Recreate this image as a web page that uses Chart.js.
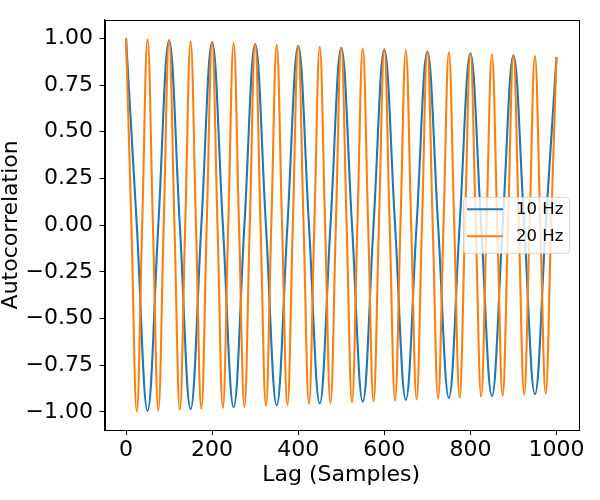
<!DOCTYPE html>
<html>
<head>
<meta charset="utf-8">
<script src="https://cdn.jsdelivr.net/npm/chart.js@4/dist/chart.umd.min.js"></script>
<style>
  html, body { margin: 0; padding: 0; background: #fff; }
  #wrap { width: 600px; height: 500px; }
</style>
</head>
<body>
<div id="wrap"><canvas id="acfChart" width="600" height="500"></canvas></div>
<script>
// Data (peaks, troughs and zero crossings)
const tenHzLag = [0, 25, 50, 75, 100, 125, 150, 175, 200, 225, 250, 275, 300, 325, 350, 375, 400, 425, 450, 475,
  500, 525, 550, 575, 600, 625, 650, 675, 700, 725, 750, 775, 800, 825, 850, 875, 900, 925, 950, 975, 1000];
const tenHzAcf = [1.000, 0, -0.995, 0, 0.990, 0, -0.985, 0, 0.980, 0, -0.975, 0, 0.970, 0, -0.965, 0, 0.960, 0, -0.955, 0,
  0.950, 0, -0.945, 0, 0.940, 0, -0.935, 0, 0.930, 0, -0.925, 0, 0.920, 0, -0.915, 0, 0.910, 0, -0.905, 0, 0.900];

const twentyHzLag = [0, 12.5, 25, 37.5, 50, 62.5, 75, 87.5, 100, 112.5, 125, 137.5, 150, 162.5, 175, 187.5,
  200, 212.5, 225, 237.5, 250, 262.5, 275, 287.5, 300, 312.5, 325, 337.5, 350, 362.5, 375, 387.5,
  400, 412.5, 425, 437.5, 450, 462.5, 475, 487.5, 500, 512.5, 525, 537.5, 550, 562.5, 575, 587.5,
  600, 612.5, 625, 637.5, 650, 662.5, 675, 687.5, 700, 712.5, 725, 737.5, 750, 762.5, 775, 787.5,
  800, 812.5, 825, 837.5, 850, 862.5, 875, 887.5, 900, 912.5, 925, 937.5, 950, 962.5, 975, 987.5, 1000];
const twentyHzAcf = [1.000, 0, -0.998, 0, 0.995, 0, -0.993, 0, 0.990, 0, -0.988, 0, 0.985, 0, -0.983, 0,
  0.980, 0, -0.978, 0, 0.975, 0, -0.973, 0, 0.970, 0, -0.968, 0, 0.965, 0, -0.963, 0,
  0.960, 0, -0.958, 0, 0.955, 0, -0.953, 0, 0.950, 0, -0.948, 0, 0.945, 0, -0.943, 0,
  0.940, 0, -0.938, 0, 0.935, 0, -0.933, 0, 0.930, 0, -0.928, 0, 0.925, 0, -0.923, 0,
  0.920, 0, -0.918, 0, 0.915, 0, -0.913, 0, 0.910, 0, -0.908, 0, 0.905, 0, -0.903, 0, 0.900];

const xTicks = [0, 200, 400, 600, 800, 1000];
const yTicks = [-1.00, -0.75, -0.50, -0.25, 0.00, 0.25, 0.50, 0.75, 1.00];
const seriesNames = ['10 Hz', '20 Hz'];
const seriesColors = ['#1f77b4', '#ff7f0e'];

const FONT = "'DejaVu Sans', sans-serif";

function toPoints(xs, ys) {
    return xs.map((x, i) => ({ x: x, y: ys[i] }));
}

// Box around the plot plus the matplotlib-style legend
const framePlugin = {
    id: 'frame',
    afterDraw(chart) {
        const { ctx, chartArea: a } = chart;
        ctx.save();
        ctx.strokeStyle = '#000';
        ctx.lineWidth = 1;
        ctx.strokeRect(Math.round(a.left) + 0.5, Math.round(a.top) + 0.5,
            Math.round(a.right - a.left), Math.round(a.bottom - a.top));

        // legend
        const w = 106, h = 56;
        const left = a.right - 9 - w;
        const top = (a.top + a.bottom) / 2 - h / 2;
        ctx.fillStyle = 'rgba(255,255,255,0.8)';
        ctx.strokeStyle = 'rgba(204,204,204,0.8)';
        ctx.beginPath();
        ctx.roundRect(left + 0.5, top + 0.5, w, h, 3);
        ctx.fill();
        ctx.stroke();
        ctx.font = '16.5px ' + FONT;
        ctx.textBaseline = 'middle';
        ctx.textAlign = 'left';
        seriesNames.forEach((name, i) => {
            const y = top + 12.5 + i * 27;
            ctx.strokeStyle = seriesColors[i];
            ctx.lineWidth = 2;
            ctx.beginPath();
            ctx.moveTo(left + 4, y);
            ctx.lineTo(left + 40, y);
            ctx.stroke();
            ctx.fillStyle = '#000';
            ctx.fillText(name, left + 53, y);
        });
        ctx.restore();
    }
};

new Chart(document.getElementById('acfChart'), {
    type: 'line',
    data: {
        datasets: [{
            label: seriesNames[0],
            data: toPoints(tenHzLag, tenHzAcf),
            borderColor: seriesColors[0],
            borderWidth: 2.1,
            pointRadius: 0,
            tension: 0.4,
            order: 2
        }, {
            label: seriesNames[1],
            data: toPoints(twentyHzLag, twentyHzAcf),
            borderColor: seriesColors[1],
            borderWidth: 2.1,
            pointRadius: 0,
            tension: 0.4,
            order: 1
        }]
    },
    options: {
        responsive: false,
        animation: false,
        layout: { padding: { top: 15, right: 22, left: 0, bottom: 0 } },
        plugins: {
            legend: { display: false },
            tooltip: { enabled: false }
        },
        scales: {
            x: {
                type: 'linear',
                min: -50,
                max: 1050,
                afterBuildTicks: s => { s.ticks = xTicks.map(v => ({ value: v })); },
                afterFit: s => { s.height = 70; },
                grid: { drawOnChartArea: false, drawTicks: true, tickLength: 5, tickColor: '#000' },
                border: { display: true, color: '#000', width: 1 },
                ticks: {
                    color: '#000',
                    padding: 2,
                    maxRotation: 0,
                    font: { family: FONT, size: 22 },
                    callback: v => String(v)
                },
                title: {
                    display: true,
                    text: 'Lag (Samples)',
                    color: '#000',
                    font: { family: FONT, size: 22, lineHeight: 1 },
                    padding: { top: 0, bottom: 14 }
                }
            },
            y: {
                type: 'linear',
                min: -1.097,
                max: 1.1,
                afterBuildTicks: s => { s.ticks = yTicks.map(v => ({ value: v })); },
                afterFit: s => { s.width = 104.5; },
                grid: { drawOnChartArea: false, drawTicks: true, tickLength: 5, tickColor: '#000' },
                border: { display: true, color: '#000', width: 1 },
                ticks: {
                    color: '#000',
                    padding: 6.5,
                    font: { family: FONT, size: 22 },
                    callback: v => v.toFixed(2).replace('-', '\u2212')
                },
                title: {
                    display: true,
                    text: 'Autocorrelation',
                    color: '#000',
                    font: { family: FONT, size: 22, lineHeight: 1 },
                    padding: { top: 0, bottom: 0 }
                }
            }
        }
    },
    plugins: [framePlugin]
});
</script>
</body>
</html>
